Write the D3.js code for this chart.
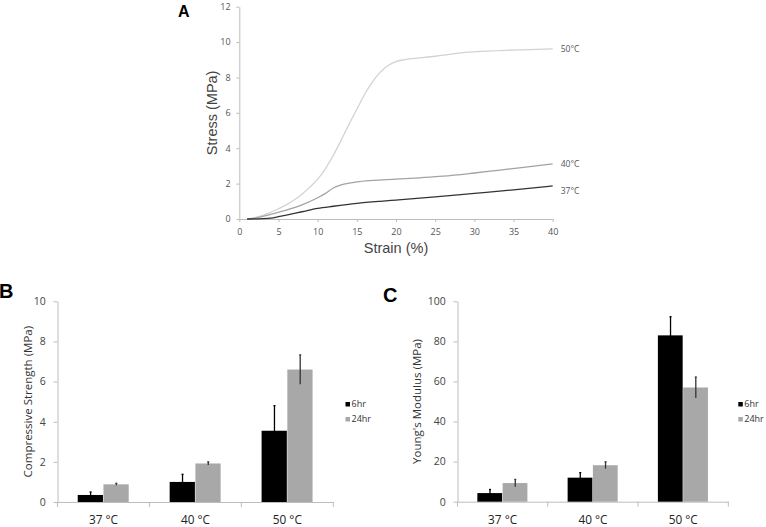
<!DOCTYPE html>
<html><head><meta charset="utf-8">
<script src="https://cdn.jsdelivr.net/npm/d3@7"></script>
<style>body{margin:0;background:#fff}svg{display:block}</style>
</head><body>
<svg id="c" width="766" height="527"></svg>
<script>
// ---- Panel A data ----
const strain50 = [1,2,3,4,5,6,7,8,9,10,11,12,13,14,15,16,17,18,19,20,21,22,25,28,30,35,40];
const stress50 = [0,0.08,0.2,0.38,0.58,0.8,1.07,1.4,1.8,2.25,2.85,3.6,4.45,5.35,6.2,7.05,7.75,8.3,8.68,8.9,9.0,9.06,9.2,9.38,9.45,9.55,9.62];
const strain40 = [1,2,4,6,8,10,11,12,13,14,15,17,20,23,26,30,33,36,40];
const stress40 = [0,0.05,0.26,0.5,0.8,1.2,1.45,1.75,1.93,2.03,2.1,2.18,2.25,2.33,2.42,2.6,2.75,2.9,3.12];
const strain37 = [1,3,4,5,6,8,10,12,15,18,20,25,30,35,40];
const stress37 = [0,0.02,0.05,0.13,0.22,0.41,0.6,0.72,0.88,1.0,1.07,1.25,1.45,1.65,1.87];
const curveLabels = ["50°C","40°C","37°C"];
const strainTicks = [0,5,10,15,20,25,30,35,40];
const stressTicks = [0,2,4,6,8,10,12];

// ---- Panels B & C data ----
const categories = ["37 °C","40 °C","50 °C"];
const seriesNames = ["6hr","24hr"];
const strength6 = [0.35,1.0,3.55];
const strength24 = [0.88,1.92,6.6];
const strengthErr6 = [0.15,0.38,1.25];
const strengthErr24 = [0.05,0.08,0.73];
const modulus6 = [4.3,12.0,83.0];
const modulus24 = [9.3,18.2,57.0];
const modulusErr6 = [1.8,2.5,9.3];
const modulusErr24 = [1.8,1.7,5.2];
const strengthTicks = [0,2,4,6,8,10];
const modulusTicks = [0,20,40,60,80,100];

const svg = d3.select("#c");
const axisCol = "#bdbdbd";
const tickFont = "'Open Sans', sans-serif";
const sansFont = "'Liberation Sans', Arial, sans-serif";

// ================= Panel A =================
const xA = d3.scaleLinear().domain([0,40]).range([239.3,552.7]);
const yA = d3.scaleLinear().domain([0,12]).range([219,6.7]);
const gA = svg.append("g");
const ax = gA.append("g").attr("transform",`translate(0,${yA(0)})`)
  .call(d3.axisBottom(xA).tickValues(strainTicks).tickSize(3).tickSizeOuter(0));
const ay = gA.append("g").attr("transform",`translate(${xA(0)},0)`)
  .call(d3.axisLeft(yA).tickValues(stressTicks).tickSize(3).tickSizeOuter(0));
[ax,ay].forEach(a=>{
  a.selectAll("path,line").attr("stroke",axisCol);
  a.selectAll("text").attr("fill","#555").style("font-family",tickFont).style("font-size","9px");
});
ax.selectAll("text").attr("dy","1.1em");
ay.selectAll("text").attr("dx","-0.3em");

const lineA = d3.line().x(d=>xA(d[0])).y(d=>yA(d[1])).curve(d3.curveMonotoneX);
const seriesA = [
  {x:strain50,y:stress50,col:"#d2d2d2",lab:curveLabels[0]},
  {x:strain40,y:stress40,col:"#a3a3a3",lab:curveLabels[1]},
  {x:strain37,y:stress37,col:"#333",lab:curveLabels[2]}
];
seriesA.forEach(s=>{
  const pts = s.x.map((v,i)=>[v,s.y[i]]);
  gA.append("path").attr("d",lineA(pts)).attr("fill","none").attr("stroke",s.col).attr("stroke-width",1.3);
  const last = pts[pts.length-1];
  gA.append("text").attr("x",xA(last[0])+8).attr("y",yA(last[1])+ (s.lab==="37°C"?8:3))
    .text(s.lab).attr("fill","#555").style("font-family",tickFont).style("font-size","8.5px");
});
gA.append("text").attr("x",(xA(0)+xA(40))/2).attr("y",253).attr("text-anchor","middle")
  .text("Strain (%)").attr("fill","#444").style("font-family",sansFont)
  .style("font-size","14.5px");
gA.append("text").attr("transform",`translate(217,${yA(6)}) rotate(-90)`).attr("text-anchor","middle")
  .text("Stress (MPa)").attr("fill","#444").style("font-family",sansFont)
  .style("font-size","14.5px");
gA.append("text").attr("x",178).attr("y",17).text("A")
  .style("font-family",sansFont).style("font-size","16px").style("font-weight","bold");

// ================= Bar panels =================
function barPanel(opt){
  const g = svg.append("g");
  const x = d3.scaleBand().domain(categories).range(opt.xr);
  const y = d3.scaleLinear().domain(opt.yd).range(opt.yr);
  const bw = x.bandwidth()*0.28;
  const ya = g.append("g").attr("transform",`translate(${opt.xr[0]},0)`)
    .call(d3.axisLeft(y).tickValues(opt.ticks).tickSize(4).tickSizeOuter(0));
  ya.selectAll("path,line").attr("stroke",axisCol);
  ya.selectAll("text").attr("fill","#444").style("font-family",tickFont).style("font-size","10.5px").attr("dx","-0.45em");
  const xa = g.append("g").attr("transform",`translate(0,${y(0)})`)
    .call(d3.axisBottom(x).tickSize(0).tickSizeOuter(0));
  xa.select("path").attr("stroke",axisCol);
  xa.selectAll("text").attr("fill","#222").style("font-family",tickFont).style("font-size","11.8px")
    .attr("y",22).attr("dy",0);
  const bounds = [opt.xr[0]].concat(categories.map(c=>x(c)+x.bandwidth()));
  xa.selectAll(".bt").data(bounds).enter().append("line").attr("class","bt")
    .attr("x1",d=>d).attr("x2",d=>d).attr("y1",0).attr("y2",5).attr("stroke",axisCol);
  const series = [
    {v:opt.s6,e:opt.e6,col:"#000",ecol:"#000",off:-bw},
    {v:opt.s24,e:opt.e24,col:"#a8a8a8",ecol:"#333",off:0}
  ];
  series.forEach(s=>{
    categories.forEach((c,i)=>{
      const cx = x(c)+x.bandwidth()/2+s.off;
      g.append("rect").attr("x",cx).attr("y",y(s.v[i])).attr("width",bw-0.5)
        .attr("height",y(0)-y(s.v[i])).attr("fill",s.col);
      g.append("line").attr("x1",cx+bw/2).attr("x2",cx+bw/2)
        .attr("y1",y(s.v[i]-s.e[i])).attr("y2",y(s.v[i]+s.e[i]))
        .attr("stroke",s.ecol).attr("stroke-width",1.3);
      g.append("line").attr("x1",cx+bw/2-1).attr("x2",cx+bw/2+1)
        .attr("y1",y(s.v[i]+s.e[i])).attr("y2",y(s.v[i]+s.e[i]))
        .attr("stroke",s.ecol).attr("stroke-width",1.3);
    });
  });
  g.append("text").attr("transform",`translate(${opt.titleX},${(opt.yr[0]+opt.yr[1])/2}) rotate(-90)`)
    .attr("text-anchor","middle").text(opt.title).attr("fill","#333")
    .style("font-family",tickFont).style("font-size","11.5px");
  seriesNames.forEach((n,i)=>{
    g.append("rect").attr("x",opt.legX).attr("y",402+i*15).attr("width",4.5).attr("height",4.5)
      .attr("fill",i===0?"#000":"#a8a8a8");
    g.append("text").attr("x",opt.legX+6).attr("y",407+i*15).text(n).attr("fill","#333")
      .style("font-family",tickFont).style("font-size","9px");
  });
  g.append("text").attr("x",opt.letX).attr("y",opt.letY).text(opt.letter)
    .style("font-family",sansFont).style("font-size","20px")
    .style("font-weight","bold");
}
barPanel({xr:[57.5,333.3],yd:[0,10],yr:[502,301.3],ticks:strengthTicks,s6:strength6,s24:strength24,
  e6:strengthErr6,e24:strengthErr24,title:"Compressive Strength (MPa)",titleX:32,legX:345.5,
  letter:"B",letX:-1,letY:298});
barPanel({xr:[457.5,728.3],yd:[0,100],yr:[501.7,301.3],ticks:modulusTicks,s6:modulus6,s24:modulus24,
  e6:modulusErr6,e24:modulusErr24,title:"Young's Modulus (MPa)",titleX:420.5,legX:738.3,
  letter:"C",letX:383,letY:302});
</script>
</body></html>
